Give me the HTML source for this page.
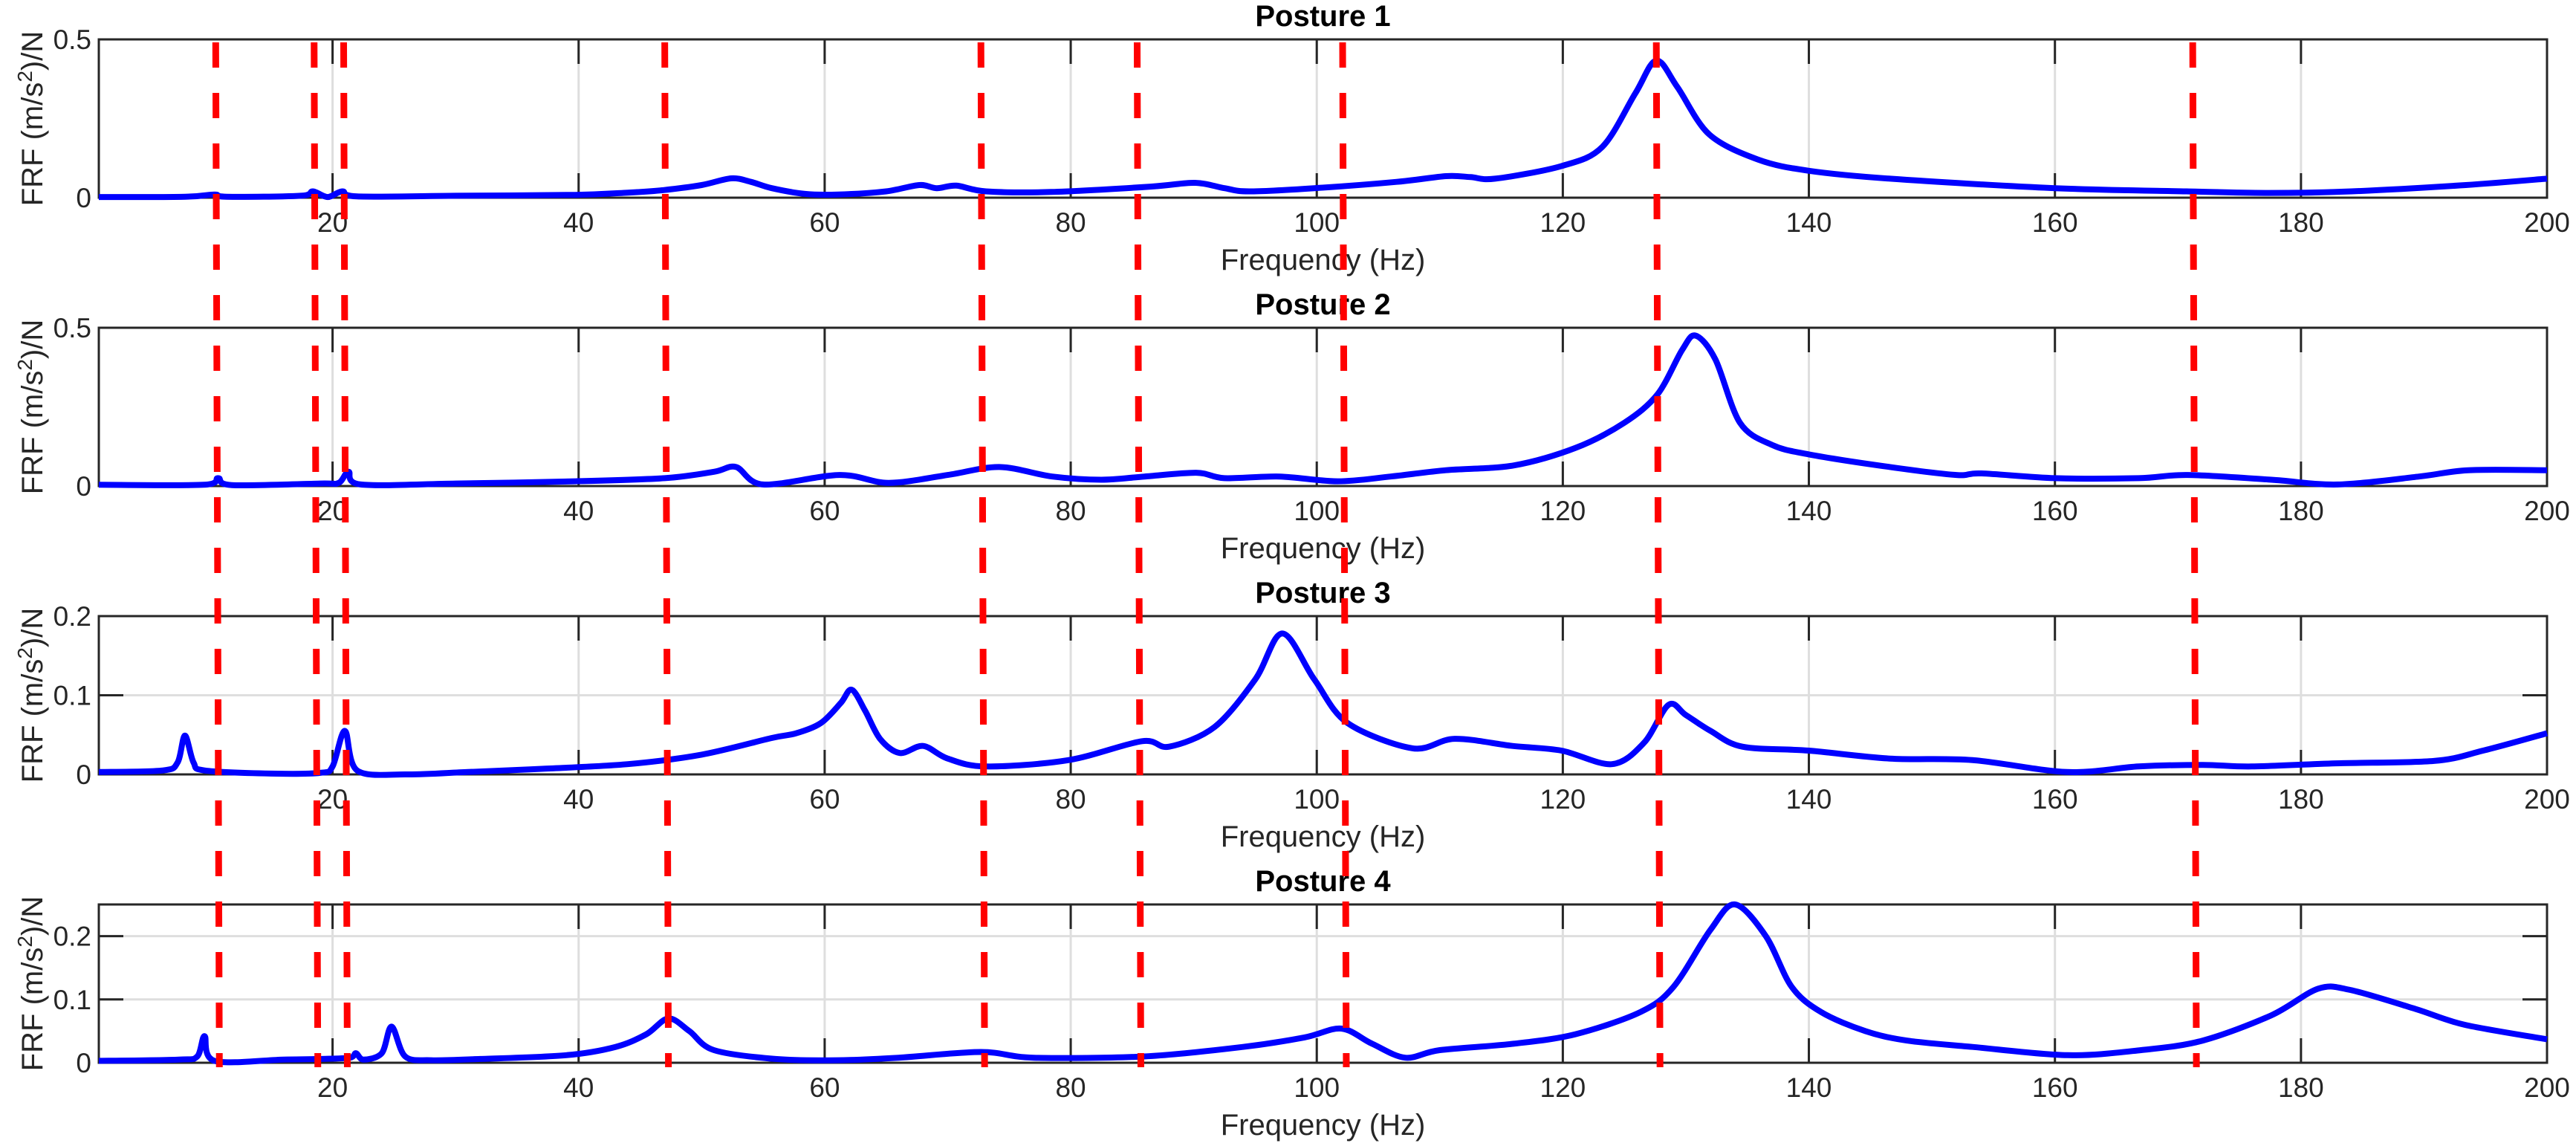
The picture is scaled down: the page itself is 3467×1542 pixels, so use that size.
<!DOCTYPE html>
<html><head><meta charset="utf-8"><style>
html,body{margin:0;padding:0;background:#fff}
svg{display:block}
text{font-family:"Liberation Sans",Arial,sans-serif;fill:#262626}
</style></head><body>
<svg id="fig" width="3467" height="1542" viewBox="0 0 3467 1542" xmlns="http://www.w3.org/2000/svg"></svg>
<script>
const panelTitles = ["Posture 1","Posture 2","Posture 3","Posture 4"];
const panelYMax = [0.5,0.5,0.2,0.25];
const panelYTicks = [[0,0.5],[0,0.5],[0,0.1,0.2],[0,0.1,0.2]];
const panelYTickLabels = [["0","0.5"],["0","0.5"],["0","0.1","0.2"],["0","0.1","0.2"]];
const xTicks = [20,40,60,80,100,120,140,160,180,200];
const xTickLabels = ["20","40","60","80","100","120","140","160","180","200"];

const freq1 = [1,8,10.4,11.4,17.4,18.4,19.6,20.8,22,30,39.7,44,46.9,50,52.4,54,55.7,58.4,61.1,65,67.7,69.1,70.7,73.1,78.4,86.5,90.1,92.5,94.5,99.8,106.5,110.5,112.5,114.5,119.9,123.2,125.9,127.6,129.3,131.9,135.9,140,146.6,160,170.7,177.4,184.1,193.4,200];
const frf1 =  [0.002,0.003,0.01,0.003,0.006,0.02,0.002,0.02,0.004,0.006,0.009,0.016,0.024,0.04,0.061,0.05,0.03,0.012,0.01,0.02,0.04,0.03,0.038,0.02,0.018,0.035,0.047,0.03,0.02,0.03,0.05,0.068,0.065,0.06,0.1,0.16,0.33,0.433,0.35,0.2,0.12,0.085,0.06,0.03,0.02,0.015,0.02,0.04,0.06];

const freq2 = [1,9.5,10.7,11.8,19,20.5,21.3,22.3,30,39.7,47,51,52.8,55,61.2,65.2,70,74.2,78.5,82.5,86,90.2,92.5,97,101.7,106,110.5,116,121,125,127.7,129.7,130.8,132.4,134.4,137,140,146.6,152,154,160,166.8,170.8,177.6,183,189.6,193.6,200];
const frf2 =  [0.004,0.004,0.025,0.003,0.008,0.01,0.045,0.005,0.008,0.015,0.025,0.045,0.06,0.005,0.035,0.01,0.035,0.06,0.03,0.02,0.03,0.042,0.025,0.03,0.015,0.03,0.05,0.065,0.12,0.2,0.29,0.43,0.475,0.4,0.2,0.13,0.1,0.06,0.035,0.04,0.025,0.025,0.035,0.02,0.005,0.03,0.05,0.05];

const freq3 = [1,6.2,7.4,8,8.7,9.6,15,19,20,21,22,26,31,37,44,50,55.7,57.7,59.7,61.3,62.2,63.3,64.5,66.1,68,70,73.1,79.8,85.8,88,91.7,95,97.2,99.8,102.5,107.8,111.2,115.9,119.9,124,126.6,128.6,130,132,134.6,140,146.6,153.3,161,166.8,172,176,182.8,190.8,194.8,200];
const frf3 =  [0.003,0.005,0.015,0.049,0.015,0.005,0.001,0.002,0.01,0.055,0.005,0.0,0.003,0.007,0.013,0.025,0.046,0.052,0.065,0.09,0.107,0.08,0.045,0.027,0.036,0.02,0.01,0.018,0.042,0.035,0.06,0.12,0.178,0.12,0.065,0.033,0.045,0.036,0.03,0.013,0.04,0.088,0.075,0.055,0.035,0.03,0.02,0.018,0.003,0.01,0.012,0.01,0.014,0.017,0.03,0.052];

const freq4 = [1,7.5,9,9.6,10.4,16,19,21.4,21.9,22.5,24,24.8,25.9,28,32,39,43,45.5,47.3,49,51,56,61,66,72.7,77,86,94,99,102,104.5,107.2,110,116,121,126.3,129,132,134,136.5,138.6,141,144.6,148,153.3,161,167,172,177.6,181.4,184,189.3,193.3,200];
const frf4 =  [0.003,0.005,0.01,0.042,0.003,0.005,0.006,0.008,0.015,0.005,0.015,0.057,0.01,0.004,0.006,0.012,0.025,0.045,0.07,0.05,0.02,0.006,0.004,0.008,0.017,0.008,0.01,0.025,0.04,0.054,0.03,0.008,0.02,0.03,0.045,0.08,0.12,0.21,0.25,0.2,0.12,0.08,0.05,0.035,0.025,0.012,0.02,0.035,0.075,0.117,0.115,0.085,0.06,0.037];

const modeFreqTop = [10.5,18.5,20.9,47.0,72.7,85.4,102.1,127.6,171.2];
const modeFreqBottom = [10.8,18.8,21.2,47.3,73.0,85.7,102.4,127.9,171.5];

const panelFreqs = [freq1,freq2,freq3,freq4];
const panelFrfs = [frf1,frf2,frf3,frf4];

const NS = "http://www.w3.org/2000/svg";
const svg = document.getElementById("fig");
const AX_L = 133, AX_R = 3428, AX_H = 213;
const panelTops = [53,441,829,1217];
const XMIN = 1, XMAX = 200;
function xScale(f){ return AX_L + (f - XMIN) / (XMAX - XMIN) * (AX_R - AX_L); }
function yScale(v, p){ const t = panelTops[p]; return t + AX_H - v / panelYMax[p] * AX_H; }
function mk(tag, attrs, parent){ const e = document.createElementNS(NS, tag); for (const k in attrs) e.setAttribute(k, attrs[k]); (parent||svg).appendChild(e); return e; }
function smoothPath(pts){
  let d = "M" + pts[0][0].toFixed(1) + "," + pts[0][1].toFixed(1);
  for (let i = 0; i < pts.length - 1; i++){
    const p0 = pts[Math.max(0,i-1)], p1 = pts[i], p2 = pts[i+1], p3 = pts[Math.min(pts.length-1,i+2)];
    const k = 0.16;
    const c1 = [p1[0] + (p2[0]-p0[0])*k, p1[1] + (p2[1]-p0[1])*k];
    const c2 = [p2[0] - (p3[0]-p1[0])*k, p2[1] - (p3[1]-p1[1])*k];
    d += " C" + c1[0].toFixed(1)+","+c1[1].toFixed(1)+" "+c2[0].toFixed(1)+","+c2[1].toFixed(1)+" "+p2[0].toFixed(1)+","+p2[1].toFixed(1);
  }
  return d;
}

for (let p = 0; p < 4; p++){
  const top = panelTops[p], bot = top + AX_H;
  const g = mk("g", {});
  
  
  for (let i = 0; i < xTicks.length - 1; i++){
    const x = xScale(xTicks[i]);
    const gl = mk("line", {x1:x, y1:top, x2:x, y2:bot, stroke:"#dedede", "stroke-width":3}, g);
    
    
  }
  panelYTicks[p].forEach(v => {
    if (v > 0 && v < panelYMax[p]){
      const y = yScale(v, p);
      const gl = mk("line", {x1:AX_L, y1:y, x2:AX_R, y2:y, stroke:"#dedede", "stroke-width":3}, g);
      
      
    }
  });
  xTicks.forEach(v => {
    const x = xScale(v);
    mk("line", {x1:x, y1:bot, x2:x, y2:bot-33, stroke:"#262626", "stroke-width":3}, g);
    mk("line", {x1:x, y1:top, x2:x, y2:top+33, stroke:"#262626", "stroke-width":3}, g);
  });
  panelYTicks[p].forEach(v => {
    const y = yScale(v, p);
    mk("line", {x1:AX_L, y1:y, x2:AX_L+33, y2:y, stroke:"#262626", "stroke-width":3}, g);
    mk("line", {x1:AX_R, y1:y, x2:AX_R-33, y2:y, stroke:"#262626", "stroke-width":3}, g);
  });
  const fr = mk("rect", {x:AX_L, y:top, width:AX_R-AX_L, height:AX_H, fill:"none", stroke:"#262626", "stroke-width":3}, g);
  
  
  const pts = panelFreqs[p].map((f,i) => [xScale(f), yScale(panelFrfs[p][i], p)]);
  const path = mk("path", {d:smoothPath(pts), fill:"none", stroke:"#0000ff", "stroke-width":8, "stroke-linejoin":"round"}, g);
  
  
  xTicks.forEach((v,i) => {
    const t = mk("text", {x:xScale(v), y:bot+46, "font-size":37, "text-anchor":"middle"}, g);
    t.textContent = xTickLabels[i];
    
    
  });
  panelYTicks[p].forEach((v,i) => {
    const t = mk("text", {x:123, y:yScale(v,p)+13, "font-size":37, "text-anchor":"end"}, g);
    t.textContent = panelYTickLabels[p][i];
    
    
  });
  const xl = mk("text", {x:(AX_L+AX_R)/2, y:bot+97, "font-size":40, "text-anchor":"middle"}, g);
  xl.textContent = "Frequency (Hz)";
  
  
  const tt = mk("text", {x:(AX_L+AX_R)/2, y:top-18, "font-size":40, "font-weight":"bold", "text-anchor":"middle", style:"fill:#000"}, g);
  tt.textContent = panelTitles[p];
  
  
  const cy = top + AX_H/2;
  const yl = mk("text", {x:0, y:0, "font-size":40, "text-anchor":"middle", transform:"translate(57,"+cy+") rotate(-90)"}, g);
  
  
  const a = document.createElementNS(NS, "tspan"); a.textContent = "FRF (m/s"; yl.appendChild(a);
  const s = document.createElementNS(NS, "tspan"); s.setAttribute("dy", "-14"); s.setAttribute("font-size", "28"); s.textContent = "2"; yl.appendChild(s);
  const c = document.createElementNS(NS, "tspan"); c.setAttribute("dy", "14"); c.textContent = ")/N"; yl.appendChild(c);
}

modeFreqTop.forEach((f,i) => {
  const l = mk("line", {x1:xScale(f), y1:57, x2:xScale(modeFreqBottom[i]), y2:1436, stroke:"#ff0000", "stroke-width":9, "stroke-dasharray":"34 34"});
  
  
});
</script>
</body></html>
